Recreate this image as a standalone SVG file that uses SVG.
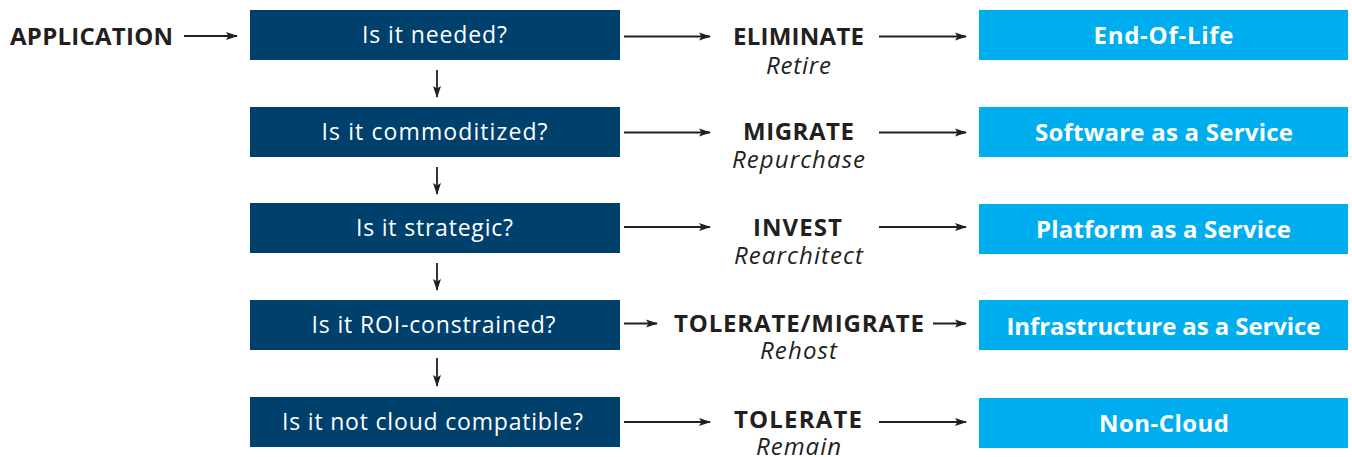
<svg xmlns="http://www.w3.org/2000/svg" width="1352" height="457" viewBox="0 0 1352 457">
  <style>
    .q { fill: #00406d; }
    .r { fill: #00aeef; }
    text { font-family: "Open Sans", "Noto Sans", sans-serif; }
    .qt { font-size: 23px; fill: #ffffff; text-anchor: middle; }
    .rt { font-size: 24px; font-weight: bold; fill: #ffffff; text-anchor: middle; }
    .lb { font-size: 24px; font-weight: bold; fill: #231f20; text-anchor: middle; }
    .li { font-size: 24px; font-style: italic; fill: #231f20; text-anchor: middle; }
    .start { font-size: 24px; font-weight: bold; fill: #231f20; }
    .c { stroke: #231f20; stroke-width: 1.8; fill: none; marker-end: url(#ah); }
  </style>
  <defs>
    <marker id="ah" viewBox="0 0 12 10" refX="11" refY="5" markerWidth="12" markerHeight="10" markerUnits="userSpaceOnUse" orient="auto">
      <path d="M0,1 L12,5 L0,9 L2.5,5 Z" fill="#231f20"/>
    </marker>
  </defs>

  <!-- entry label -->
  <g id="application">
    <text class="start" x="10" y="45" textLength="163" lengthAdjust="spacing">APPLICATION</text>
  </g>

  <!-- question boxes -->
  <g id="q-needed"><rect class="q" x="250" y="10" width="370" height="50"/><text class="qt" x="434.5" y="43" textLength="145" lengthAdjust="spacing">Is it needed?</text></g>
  <g id="q-commoditized"><rect class="q" x="250" y="107" width="370" height="50"/><text class="qt" x="434.5" y="140" textLength="226" lengthAdjust="spacing">Is it commoditized?</text></g>
  <g id="q-strategic"><rect class="q" x="250" y="203" width="370" height="50"/><text class="qt" x="434.5" y="236" textLength="157" lengthAdjust="spacing">Is it strategic?</text></g>
  <g id="q-roi"><rect class="q" x="250" y="300" width="370" height="50"/><text class="qt" x="433.5" y="333" textLength="244" lengthAdjust="spacing">Is it ROI-constrained?</text></g>
  <g id="q-cloud"><rect class="q" x="250" y="397" width="370" height="50"/><text class="qt" x="432.5" y="429.5" textLength="301" lengthAdjust="spacing">Is it not cloud compatible?</text></g>

  <!-- decisions -->
  <g id="d-eliminate"><text class="lb" x="798.5" y="45" textLength="131" lengthAdjust="spacing">ELIMINATE</text><text class="li" x="798.5" y="74" textLength="65" lengthAdjust="spacing">Retire</text></g>
  <g id="d-migrate"><text class="lb" x="798.5" y="140" textLength="111" lengthAdjust="spacing">MIGRATE</text><text class="li" x="798.5" y="168" textLength="133" lengthAdjust="spacing">Repurchase</text></g>
  <g id="d-invest"><text class="lb" x="797.5" y="236" textLength="89" lengthAdjust="spacing">INVEST</text><text class="li" x="798.5" y="264" textLength="129" lengthAdjust="spacing">Rearchitect</text></g>
  <g id="d-tolerate-migrate"><text class="lb" x="799" y="332" textLength="250" lengthAdjust="spacing">TOLERATE/MIGRATE</text><text class="li" x="798.5" y="359" textLength="77" lengthAdjust="spacing">Rehost</text></g>
  <g id="d-tolerate"><text class="lb" x="798" y="428" textLength="128" lengthAdjust="spacing">TOLERATE</text><text class="li" x="798.5" y="455" textLength="85" lengthAdjust="spacing">Remain</text></g>

  <!-- outcome boxes -->
  <g id="o-eol"><rect class="r" x="979" y="10" width="369" height="50"/><text class="rt" x="1163.5" y="44" textLength="140" lengthAdjust="spacing">End-Of-Life</text></g>
  <g id="o-saas"><rect class="r" x="979" y="107" width="369" height="50"/><text class="rt" x="1164" y="141" textLength="258" lengthAdjust="spacing">Software as a Service</text></g>
  <g id="o-paas"><rect class="r" x="979" y="204" width="369" height="50"/><text class="rt" x="1163.5" y="238" textLength="255" lengthAdjust="spacing">Platform as a Service</text></g>
  <g id="o-iaas"><rect class="r" x="979" y="300" width="369" height="50"/><text class="rt" x="1163.5" y="335" textLength="314" lengthAdjust="spacing">Infrastructure as a Service</text></g>
  <g id="o-noncloud"><rect class="r" x="979" y="398" width="369" height="50"/><text class="rt" x="1164" y="432" textLength="130" lengthAdjust="spacing">Non-Cloud</text></g>

  <!-- connectors -->
  <g id="connectors">
    <line class="c" x1="184" y1="36" x2="237" y2="36"/>

    <line class="c" x1="437" y1="70" x2="437" y2="97"/>
    <line class="c" x1="437" y1="167" x2="437" y2="194"/>
    <line class="c" x1="437" y1="263" x2="437" y2="290"/>
    <line class="c" x1="437" y1="358" x2="437" y2="386"/>

    <line class="c" x1="624" y1="36.5" x2="710" y2="36.5"/>
    <line class="c" x1="879" y1="36.5" x2="966" y2="36.5"/>
    <line class="c" x1="624" y1="132.5" x2="710" y2="132.5"/>
    <line class="c" x1="879" y1="132.5" x2="966" y2="132.5"/>
    <line class="c" x1="624" y1="227" x2="710" y2="227"/>
    <line class="c" x1="879" y1="227" x2="966" y2="227"/>
    <line class="c" x1="624" y1="323.5" x2="657" y2="323.5"/>
    <line class="c" x1="933" y1="323.5" x2="966" y2="323.5"/>
    <line class="c" x1="624" y1="422" x2="710" y2="422"/>
    <line class="c" x1="879" y1="422" x2="966" y2="422"/>
  </g>
</svg>
